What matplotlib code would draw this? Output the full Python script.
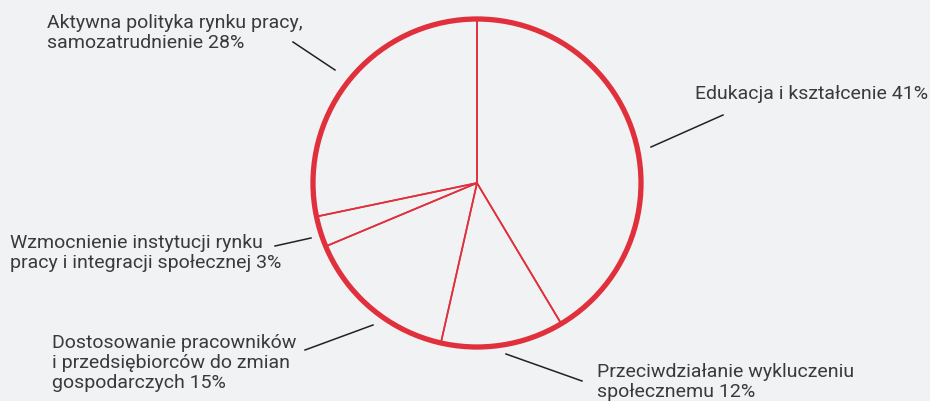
import numpy as np
import matplotlib.pyplot as plt
from matplotlib.patches import Circle

# shares in percent, clockwise from the top
labels = ["Edukacja i kształcenie 41%",
          "Przeciwdziałanie wykluczeniu\nspołecznemu 12%",
          "Dostosowanie pracowników\ni przedsiębiorców do zmian\ngospodarczych 15%",
          "Wzmocnienie instytucji rynku\npracy i integracji społecznej 3%",
          "Aktywna polityka rynku pracy,\nsamozatrudnienie 28%"]
shares = [41, 12, 15, 3, 28]

RED = "#e0303c"
BG = "#f1f2f4"
TXT = "#3a3a3a"
H = 401

def y(p):
    # pixel row -> data y
    return H - p

fig = plt.figure(figsize=(9.3, 4.01), dpi=100, facecolor=BG)
ax = fig.add_axes([0, 0, 1, 1])
ax.set_facecolor(BG)
ax.set_xlim(0, 930)
ax.set_ylim(0, H)
ax.set_aspect("equal")
ax.axis("off")

cx, cy, r = 477, y(183), 164
ax.pie(shares, startangle=90, counterclock=False, center=(cx, cy), radius=r,
       wedgeprops=dict(facecolor="none", edgecolor=RED, linewidth=1.2))
ax.add_patch(Circle((cx, cy), r, fill=False, edgecolor=RED, linewidth=3.8))
ax.set_xlim(0, 930)
ax.set_ylim(0, H)

# label positions (left x, baseline of last line) and leader lines
text_pos = [(695, 99), (597, 397), (52, 388), (10, 268), (47, 48)]
leaders = [((723, 115), (651, 147)),
           ((582, 381), (506, 354)),
           ((305, 350), (373, 325)),
           ((275, 246), (311, 238)),
           ((293, 42), (335, 70))]

for lab, (tx, ty), (p0, p1) in zip(labels, text_pos, leaders):
    ax.text(tx, y(ty), lab, ha="left", va="baseline", fontsize=14,
            color=TXT, family="Roboto", linespacing=1.16)
    ax.plot([p0[0], p1[0]], [y(p0[1]), y(p1[1])], color="#222222", lw=1.1)

fig.savefig("out.png", dpi=100, facecolor=BG)
